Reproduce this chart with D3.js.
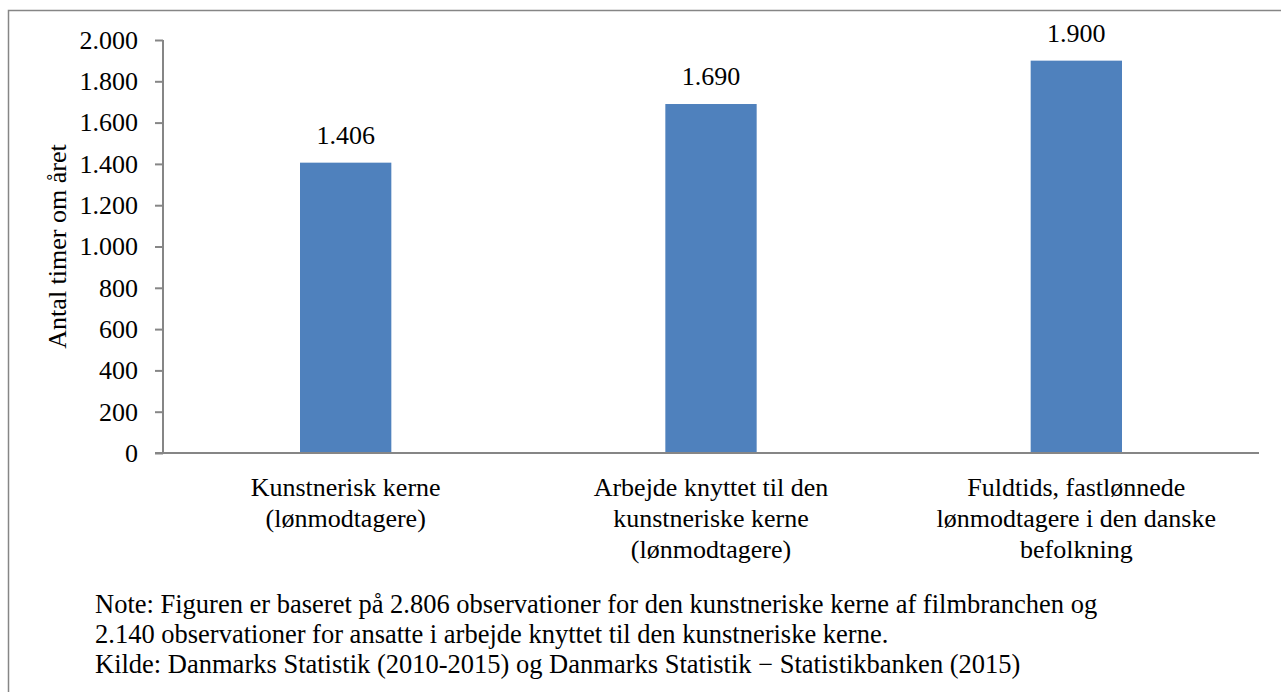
<!DOCTYPE html>
<html>
<head>
<meta charset="utf-8">
<script src="https://cdn.jsdelivr.net/npm/d3@7"></script>
<style>
    body { margin: 0; background: #fff; }
    svg text { font-family: "Liberation Serif", Tinos, serif; }
</style>
</head>
<body>
<div id="chart"></div>
<script>
// data
const categories = [
    ["Kunstnerisk kerne", "(lønmodtagere)"],
    ["Arbejde knyttet til den", "kunstneriske kerne", "(lønmodtagere)"],
    ["Fuldtids, fastlønnede", "lønmodtagere i den danske", "befolkning"]
];
const hours = [1406, 1690, 1900];
const yTicks = [0, 200, 400, 600, 800, 1000, 1200, 1400, 1600, 1800, 2000];
const noteLines = [
    "Note: Figuren er baseret på 2.806 observationer for den kunstneriske kerne af filmbranchen og",
    "2.140 observationer for ansatte i arbejde knyttet til den kunstneriske kerne.",
    "Kilde: Danmarks Statistik (2010-2015) og Danmarks Statistik \u2212 Statistikbanken (2015)"
];

const width = 1281;
const height = 692;
const margin = {top: 40, right: 22, bottom: 239, left: 163};
const axisColor = "#868686";
const barColor = "#4F81BD";
const fontName = "Liberation Serif";

const formatNum = d3.formatLocale({decimal: ",", thousands: ".", grouping: [3], currency: ["", " kr."]}).format(",d");

const svg = d3.select("#chart")
    .append("svg")
    .attr("width", width)
    .attr("height", height);

// outer frame
svg.append("path")
    .attr("d", `M8.5,${height} V10.5 H${width}`)
    .attr("fill", "none")
    .attr("stroke", axisColor)
    .attr("stroke-width", 1.5);

const x = d3.scaleBand()
    .domain(d3.range(categories.length))
    .range([margin.left, width - margin.right]);

const y = d3.scaleLinear()
    .domain([0, 2000])
    .range([height - margin.bottom, margin.top]);

const barWidth = x.bandwidth() * 0.25;

// bars
svg.append("g")
    .selectAll("rect")
    .data(hours)
    .enter().append("rect")
    .attr("x", (d, i) => x(i) + (x.bandwidth() - barWidth) / 2)
    .attr("y", d => y(d))
    .attr("width", barWidth)
    .attr("height", d => y(0) - y(d))
    .attr("fill", barColor);

// value labels
svg.append("g")
    .selectAll("text")
    .data(hours)
    .enter().append("text")
    .attr("x", (d, i) => x(i) + x.bandwidth() / 2)
    .attr("y", d => y(d) - 19)
    .attr("text-anchor", "middle")
    .attr("font-size", 26)
    .text(d => formatNum(d));

// y axis
const gy = svg.append("g")
    .attr("transform", `translate(${margin.left},0)`)
    .call(d3.axisLeft(y).tickValues(yTicks).tickSize(8).tickPadding(17).tickFormat(formatNum));
gy.attr("font-family", null).attr("font-size", 26);
gy.selectAll("path, line").attr("stroke", axisColor).attr("stroke-width", 2);
gy.select(".domain").attr("d", `M0,${y(2000)}V${y(0)}`);

// x axis
svg.append("line")
    .attr("x1", margin.left - 8)
    .attr("x2", width - margin.right)
    .attr("y1", y(0))
    .attr("y2", y(0))
    .attr("stroke", axisColor)
    .attr("stroke-width", 2);

// category labels
const catLabels = svg.append("g")
    .selectAll("text")
    .data(categories)
    .enter().append("text")
    .attr("text-anchor", "middle")
    .attr("font-size", 26);

catLabels.selectAll("tspan")
    .data((d, i) => d.map(line => ({line, i})))
    .enter().append("tspan")
    .attr("x", d => x(d.i) + x.bandwidth() / 2)
    .attr("y", (d, j) => y(0) + 43 + j * 31)
    .text(d => d.line);

// y axis title
svg.append("text")
    .attr("transform", `translate(66,${(y(0) + y(2000)) / 2}) rotate(-90)`)
    .attr("text-anchor", "middle")
    .attr("font-size", 26)
    .text("Antal timer om året");

// note
svg.append("g")
    .selectAll("text")
    .data(noteLines)
    .enter().append("text")
    .attr("x", 95)
    .attr("y", (d, i) => 613 + i * 30)
    .attr("font-size", 26.5)
    .text(d => d);

svg.selectAll("text").attr("font-family", fontName).attr("fill", "#000");
</script>
</body>
</html>
